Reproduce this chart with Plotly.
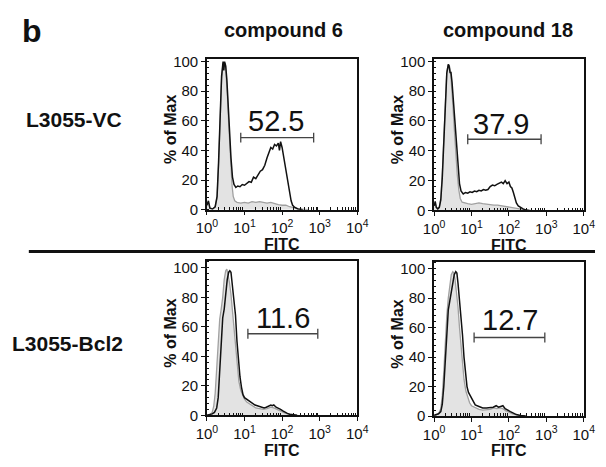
import numpy as np
import plotly.graph_objects as go

# ---------------- data (x in log10 FITC units, y in % of Max) ----------------
p1_ctrl_log = [0.0,0.04,0.08,0.15,0.22,0.27,0.31,0.35,0.39,0.43,0.46,0.49,0.52,0.55,0.58,0.61,0.64,0.67,0.7,0.74,0.8,0.9,1.0,1.1,1.2,1.3,1.4,1.5,1.6,1.7,1.8,1.9,2.0,2.1,2.2,2.3,2.4,2.5,2.7]
p1_ctrl_y   = [3,5,1,0.5,2,8,30,62,88,99,97,99,90,75,58,42,28,16,9,6,5,4.5,5,4.5,5.5,5,5.5,5,4.5,5,4,3.5,3,3,2,1.5,0.8,0.3,0]
p1_trt_log  = [0.0,0.04,0.08,0.15,0.22,0.27,0.31,0.35,0.39,0.43,0.45,0.47,0.5,0.53,0.56,0.6,0.64,0.68,0.72,0.77,0.82,0.88,0.94,1.0,1.06,1.12,1.18,1.24,1.3,1.36,1.42,1.48,1.54,1.6,1.65,1.7,1.75,1.8,1.85,1.9,1.93,1.96,2.0,2.04,2.08,2.12,2.16,2.2,2.24,2.28,2.34,2.42,2.55]
p1_trt_y    = [3,6,1,0.5,2,9,32,64,90,100,94,100,97,88,72,52,35,22,17,15,16,15.5,17,16.5,18,19,18.5,22,21,24,26,27,30,35,39,42,41,44,43,45,40,46,42,36,30,24,17,11,6,3,1.5,0.5,0]

p2_ctrl_log = [0.0,0.03,0.06,0.1,0.14,0.18,0.22,0.26,0.3,0.34,0.38,0.41,0.44,0.47,0.5,0.54,0.58,0.62,0.66,0.7,0.75,0.8,0.9,1.0,1.1,1.2,1.3,1.4,1.5,1.6,1.7,1.8,1.9,2.0,2.1,2.2,2.3,2.4,2.5,2.6]
p2_ctrl_y   = [3,5,2,1,2,8,25,52,78,93,98,97,93,85,72,55,38,24,14,8,5.5,5,4.5,4,4.5,5,4.5,4,4,3.5,3.5,3,3,2.5,2,1.5,1,0.5,0.2,0]
p2_trt_log  = [0.0,0.03,0.06,0.1,0.14,0.18,0.22,0.26,0.3,0.34,0.38,0.4,0.43,0.45,0.48,0.52,0.56,0.6,0.64,0.68,0.72,0.78,0.84,0.9,0.96,1.02,1.08,1.14,1.2,1.26,1.32,1.38,1.44,1.5,1.56,1.62,1.68,1.74,1.8,1.85,1.9,1.95,2.0,2.04,2.08,2.12,2.16,2.2,2.25,2.3,2.38,2.45,2.55]
p2_trt_y    = [3,6,2,1,2,7,22,50,76,92,98,97,92,93,86,72,56,40,27,18,13,11,12,11.5,12.5,12,13,12.5,13.5,13,14,13.5,14,16,17,16.5,17.5,18,19,18,20,18,19,16,15,12,8,5,3,2,1,0.3,0]

p3_ctrl_log = [0.0,0.08,0.14,0.18,0.22,0.26,0.3,0.34,0.38,0.42,0.46,0.5,0.53,0.56,0.6,0.64,0.68,0.72,0.76,0.8,0.85,0.9,0.95,1.0,1.06,1.12,1.2,1.3,1.4,1.5,1.6,1.7,1.78,1.86,1.95,2.05,2.15,2.25,2.4]
p3_ctrl_y   = [0,0.5,2,6,15,30,50,65,72,80,92,98,99,96,90,82,70,58,44,32,23,17,14,11,9,8,6.5,5,4.5,4,4.5,5.5,5,4,3,1.8,1,0.4,0]
p3_trt_log  = [0.0,0.08,0.14,0.2,0.26,0.3,0.34,0.38,0.42,0.46,0.5,0.54,0.58,0.61,0.64,0.67,0.7,0.73,0.76,0.8,0.84,0.88,0.92,0.96,1.0,1.05,1.1,1.16,1.22,1.28,1.34,1.4,1.46,1.52,1.58,1.64,1.7,1.74,1.78,1.84,1.9,1.96,2.02,2.08,2.14,2.2,2.3,2.4]
p3_trt_y    = [0,0.5,1,2,5,12,28,48,66,72,83,92,97,98,97,90,84,76,68,50,36,26,19,14,12,11,10,9,8,7,6.5,6,5.5,5,5.5,6.5,7,6.5,7,5.5,5,4,3,2,1.3,0.7,0.2,0]

p4_ctrl_log = [0.0,0.06,0.12,0.18,0.22,0.26,0.3,0.34,0.38,0.42,0.46,0.5,0.53,0.56,0.6,0.64,0.68,0.72,0.76,0.8,0.85,0.9,0.95,1.0,1.1,1.2,1.3,1.4,1.5,1.6,1.68,1.76,1.84,1.92,2.0,2.1,2.2,2.3,2.45]
p4_ctrl_y   = [0,0.5,1.5,5,14,30,50,68,80,88,96,98,97,93,85,74,60,46,34,25,17,12,9,7,5.5,4.5,4,4,4.5,5.5,5,5.5,5,3.5,2.5,1.5,0.8,0.3,0]
p4_trt_log  = [0.0,0.06,0.12,0.18,0.22,0.26,0.3,0.34,0.38,0.42,0.46,0.5,0.54,0.58,0.61,0.64,0.68,0.72,0.76,0.8,0.84,0.88,0.92,0.96,1.0,1.05,1.1,1.2,1.3,1.4,1.5,1.58,1.66,1.72,1.78,1.84,1.9,1.96,2.04,2.12,2.2,2.3,2.45]
p4_trt_y    = [0.5,1,1.5,3,8,20,40,60,72,78,85,92,96,98,97,90,80,68,55,40,28,20,16,14,12,9,7.5,6.5,5.5,5.5,5.5,6,7,6,6.5,7,5,4,3,2,1,0.4,0]

# gate markers: [start_log, end_log, height], label, label position (log x, y)
gate_ranges  = [[0.9, 2.84, 48.6], [0.9, 2.86, 47.7], [1.09, 2.95, 55.3], [1.07, 2.96, 53.3]]
gate_labels  = ["52.5", "37.9", "11.6", "12.7"]
gate_label_pos = [[1.84, 60], [1.80, 58], [2.02, 65.8], [2.03, 65]]

col_titles = ["compound 6", "compound 18"]
row_titles = ["L3055-VC", "L3055-Bcl2"]
y_ticks = [0, 20, 40, 60, 80, 100]
x_tick_exp = [0, 1, 2, 3, 4]
x_tick_text = ["10<sup>%d</sup>" % e for e in x_tick_exp]
x_title = "FITC"
y_title = "% of Max"

panels = [
    (p1_ctrl_log, p1_ctrl_y, p1_trt_log, p1_trt_y),
    (p2_ctrl_log, p2_ctrl_y, p2_trt_log, p2_trt_y),
    (p3_ctrl_log, p3_ctrl_y, p3_trt_log, p3_trt_y),
    (p4_ctrl_log, p4_ctrl_y, p4_trt_log, p4_trt_y),
]

# ---------------- layout geometry (pixels) ----------------
W, H = 606, 467
boxes = [  # x0, x1, ytop, ybottom in px
    (203.3, 359.3, 55.0, 210.0),
    (439.0, 594.3, 54.7, 210.7),
    (203.3, 359.3, 263.0, 422.0),
    (439.0, 594.3, 264.0, 422.7),
]
y_ranges = [[0, 101.5], [0, 101.5], [0, 104.5], [0, 104.5]]

FONT = "Liberation Sans, Arial, Helvetica, sans-serif"
fig = go.Figure()
layout = dict(width=W, height=H, margin=dict(l=0, r=0, t=0, b=0),
              paper_bgcolor="white", plot_bgcolor="white", showlegend=False,
              font=dict(family=FONT, color="#111"))
annotations = []

for i, (cx, cy, tx, ty) in enumerate(panels):
    n = "" if i == 0 else str(i + 1)
    xa, ya = "x" + n, "y" + n
    fig.add_trace(go.Scatter(x=np.power(10.0, cx), y=cy, xaxis=xa, yaxis=ya, mode="lines",
                             line=dict(color="#a0a0a0", width=1.3), fill="tozeroy",
                             fillcolor="#e3e3e3", hoverinfo="skip"))
    fig.add_trace(go.Scatter(x=np.power(10.0, tx), y=ty, xaxis=xa, yaxis=ya, mode="lines",
                             line=dict(color="#111111", width=1.5), hoverinfo="skip"))
    g0, g1, gh = gate_ranges[i]
    fig.add_trace(go.Scatter(x=np.power(10.0, [g0, g1]), y=[gh, gh], xaxis=xa, yaxis=ya,
                             mode="lines+markers", line=dict(color="#444", width=1.3),
                             marker=dict(symbol="line-ns-open", size=7,
                                         line=dict(color="#444", width=1.3)),
                             hoverinfo="skip"))
    lx, ly = gate_label_pos[i]
    annotations.append(dict(x=lx, y=ly, xref=xa, yref=ya, text=gate_labels[i], showarrow=False,
                            font=dict(size=29, family=FONT, color="#111"),
                            xanchor="center", yanchor="middle"))
    x0, x1, yt, yb = boxes[i]
    layout["xaxis" + n] = dict(
        type="log", range=[0, 4], domain=[x0 / W, x1 / W], anchor=ya,
        tickvals=[10.0 ** e for e in x_tick_exp], ticktext=x_tick_text,
        ticks="outside", ticklen=4, tickwidth=1, tickcolor="#111",
        showline=True, linecolor="#111", linewidth=1.5, mirror=True,
        showgrid=False, zeroline=False,
        tickfont=dict(size=15, family=FONT, color="#111"),
        minor=dict(ticks="inside", ticklen=3, tickcolor="#111", tickwidth=1, showgrid=False,
                   tickvals=[m * 10.0 ** e for e in range(4) for m in range(2, 10)]),
    )
    layout["yaxis" + n] = dict(
        range=y_ranges[i], domain=[1 - yb / H, 1 - yt / H], anchor=xa,
        tickvals=y_ticks, ticks="outside", ticklen=4, tickwidth=1, tickcolor="#111",
        showline=True, linecolor="#111", linewidth=1.5, mirror=True,
        showgrid=False, zeroline=False,
        tickfont=dict(size=15, family=FONT, color="#111"),
        minor=dict(ticks="inside", ticklen=2.5, tickcolor="#111", tickwidth=1, dtick=4,
                   showgrid=False),
    )
    # axis titles
    annotations.append(dict(x=(x0 - 38) / W, y=1 - ((yt + yb) / 2 - 5) / H, xref="paper", yref="paper",
                            text="<b>%s</b>" % y_title, textangle=-90, showarrow=False,
                            font=dict(size=16, family=FONT, color="#111"),
                            xanchor="center", yanchor="middle"))
    annotations.append(dict(x=(x0 + x1) / 2 / W, y=1 - (yb + 36) / H, xref="paper", yref="paper",
                            text="<b>%s</b>" % x_title, showarrow=False,
                            font=dict(size=16, family=FONT, color="#111"),
                            xanchor="center", yanchor="middle"))

# column / row titles and panel letter
annotations.append(dict(x=283 / W, y=1 - 25 / H, xref="paper", yref="paper", text="<b>%s</b>" % col_titles[0],
                        showarrow=False, font=dict(size=20, family=FONT, color="#111"),
                        xanchor="center", yanchor="middle"))
annotations.append(dict(x=516 / W, y=1 - 25 / H, xref="paper", yref="paper", text="<b>%s</b>" % col_titles[1],
                        showarrow=False, font=dict(size=20, family=FONT, color="#111"),
                        xanchor="center", yanchor="middle"))
annotations.append(dict(x=65 / W, y=1 - 117 / H, xref="paper", yref="paper", text="<b>%s</b>" % row_titles[0],
                        showarrow=False, font=dict(size=21, family=FONT, color="#111"),
                        xanchor="center", yanchor="middle"))
annotations.append(dict(x=59 / W, y=1 - 348 / H, xref="paper", yref="paper", text="<b>%s</b>" % row_titles[1],
                        showarrow=False, font=dict(size=21, family=FONT, color="#111"),
                        xanchor="center", yanchor="middle"))
annotations.append(dict(x=22 / W, y=1 - 26 / H, xref="paper", yref="paper", text="<b>b</b>",
                        showarrow=False, font=dict(size=32, family=FONT, color="#111"),
                        xanchor="center", yanchor="middle"))

layout["annotations"] = annotations
layout["shapes"] = [dict(type="line", xref="paper", yref="paper", x0=18.5 / W, x1=1.0,
                         y0=1 - 253.0 / H, y1=1 - 253.0 / H, line=dict(color="#111", width=3))]
fig.update_layout(**layout)
fig.write_html("out.html", config={"displayModeBar": False},
               post_script="document.body.style.margin='0';document.body.style.overflow='hidden';")
